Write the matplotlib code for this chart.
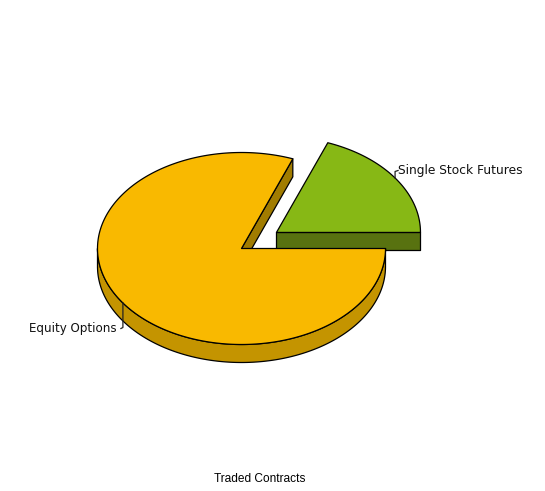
"""
Traded contracts as an exploded 3D-looking pie.
"""
import numpy as np
import matplotlib
matplotlib.use("Agg")
import matplotlib.pyplot as plt
from matplotlib.patches import Polygon

# Data
labels = ["Single Stock Futures", "Equity Options"]
shares = [19.2, 80.8]
explode = [0.295, 0.0]
title = "Traded Contracts"

# Colours: top, outer wall, cut face
top_colors = ["#87B815", "#F9B900"]
wall_colors = ["#5E7F0F", "#C49400"]
cut_colors = ["#587210", "#A17C00"]

# Geometry in pixels
W, H = 545, 491
cx, cy = 241.5, 248.5
rx, ry = 144, 96
depth = 18
edge = dict(edgecolor="black", linewidth=0.9, joinstyle="round")


def rim(x0, y0, a, b, dy=0):
    t = np.radians(np.linspace(a, b, max(int(abs(b - a)) * 2, 2)))
    return np.column_stack([x0 + rx * np.cos(t), y0 - ry * np.sin(t) + dy])


fig = plt.figure(figsize=(W / 100, H / 100), dpi=100)
ax = fig.add_axes([0, 0, 1, 1])
ax.set_xlim(0, W)
ax.set_ylim(H, 0)
ax.axis("off")

# Work out each slice, counter-clockwise from 3 o'clock
angles = np.cumsum([0] + shares) / sum(shares) * 360
slices = []
for i in range(len(shares)):
    a, b = angles[i], angles[i + 1]
    mid = np.radians((a + b) / 2)
    x0 = cx + explode[i] * rx * np.cos(mid)
    y0 = cy - explode[i] * ry * np.sin(mid)
    slices.append((i, a, b, mid, x0, y0))

# Walls first, so the top faces sit over them
for i, a, b, mid, x0, y0 in slices:
    # radial cut face at the start angle, the other one faces away
    p = rim(x0, y0, a, a + 1)[0]
    face = [(x0, y0), p, (p[0], p[1] + depth), (x0, y0 + depth)]
    ax.add_patch(Polygon(face, closed=True, facecolor=cut_colors[i], zorder=2 + i * 2, **edge))
    # outer wall, only the front half shows
    lo, hi = max(a, 180), min(b, 360)
    if hi > lo:
        wall = np.vstack([rim(x0, y0, lo, hi), rim(x0, y0, hi, lo, depth)])
        ax.add_patch(Polygon(wall, closed=True, facecolor=wall_colors[i], zorder=3 + i * 2, **edge))

for i, a, b, mid, x0, y0 in slices:
    top = np.vstack([[x0, y0], rim(x0, y0, a, b)])
    ax.add_patch(Polygon(top, closed=True, facecolor=top_colors[i], zorder=4 + i * 2, **edge))

# Labels with their little leader lines
for i, a, b, mid, x0, y0 in slices:
    px = x0 + rx * np.cos(mid)
    py = y0 - ry * np.sin(mid)
    if np.cos(mid) > 0:
        ly = 170.5
        ax.plot([px, px, px + 3], [py, ly + 1, ly], color="#222222", lw=0.9, zorder=10)
        ax.text(px + 3, ly, labels[i], ha="left", va="center", fontsize=8.8,
                family="DejaVu Sans", color="#111111")
    else:
        ly = 328.5
        ax.plot([px, px, px - 2], [py, ly - 1, ly], color="#222222", lw=0.9, zorder=10)
        ax.text(px - 6.5, ly, labels[i], ha="right", va="center", fontsize=8.6,
                family="DejaVu Sans", color="#111111")

ax.text(260, 479.5, title, ha="center", va="center", fontsize=8.6,
        family="Liberation Sans", color="black")

fig.savefig("out.png", dpi=100, facecolor="white")
